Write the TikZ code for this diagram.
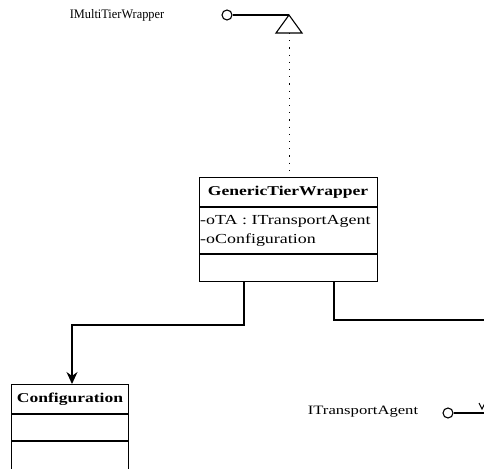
\documentclass[tikz,border=0pt]{standalone}
\usepackage{fontspec}
\newfontfamily\uml[FakeStretch=1.3]{Liberation Serif}
\newfontfamily\umlnarrow[FakeStretch=0.95]{Liberation Serif}
\usetikzlibrary{arrows.meta}
\tikzset{
  box/.style={draw, line width=1.1pt, inner sep=0pt, anchor=north west},
  sep/.style={line width=1.1pt},
  conn/.style={line width=1.1pt},
  hdr/.style={font=\uml\fontsize{13.5}{15}\selectfont\bfseries, inner sep=0pt},
  attr/.style={font=\uml\fontsize{13.8}{15}\selectfont, inner sep=0pt, anchor=west},
  lbl/.style={font=\uml\fontsize{12.8}{14}\selectfont, inner sep=0pt},
  lolli/.style={draw, circle, line width=1.1pt, minimum size=10pt, inner sep=0pt, fill=white},
  realize/.style={line width=0.9pt, dash pattern=on 1.2pt off 6pt},
}
\begin{document}
\begin{tikzpicture}[x=1pt,y=-1pt]
\useasboundingbox (0,0) rectangle (484,468);
\clip (0,0) rectangle (484,468);
% GenericTierWrapper class
\node[box, minimum width=178pt, minimum height=104pt] (gtw) at (199,177) {};
\node[hdr] (gtwname) at (288,192) {GenericTierWrapper};
\draw[sep] (199,207) coordinate (g1l) -- (377,207) coordinate (g1r);
\node[attr] (a1) at (200,221) {-oTA : ITransportAgent};
\node[attr] (a2) at (200,240) {-oConfiguration};
\draw[sep] (199,254) coordinate (g2l) -- (377,254) coordinate (g2r);
% Configuration class
\node[box, minimum width=117pt, minimum height=100pt] (cfg) at (11,384) {};
\node[hdr] (cfgname) at (70,399) {Configuration};
\draw[sep] (11,414) coordinate (c1l) -- (128,414) coordinate (c1r);
\draw[sep] (11,441) coordinate (c2l) -- (128,441) coordinate (c2r);
% IMultiTierWrapper interface
\node[lbl, font=\umlnarrow\fontsize{13}{14}\selectfont] (imtw) at (117,15) {IMultiTierWrapper};
\node[lolli] (imtwc) at (227,15) {};
\coordinate (apex) at (289,15);
\coordinate (tl) at (276,33);
\coordinate (tr) at (302,33);
\coordinate (tb) at (289,33);
\draw[conn] (imtwc) -- (apex);
\draw[line width=1.1pt, line join=miter] (apex) -- (tl) -- (tr) -- cycle;
\draw[realize] (tb) -- (gtw.north -| tb);
% association to Configuration
\coordinate (s1) at (244,281);
\coordinate (k1) at (244,325);
\coordinate (k2) at (72,325);
\draw[conn, -{Stealth[length=12pt,width=11pt]}] (s1) -- (k1) -- (k2) -- (cfg.north -| k2);
% association to the right
\coordinate (s2) at (334,281);
\coordinate (k3) at (334,320);
\coordinate (e2) at (490,320);
\draw[conn] (s2) -- (k3) -- (e2);
% ITransportAgent interface
\node[lbl] (ita) at (363,412) {ITransportAgent};
\node[lolli] (itac) at (448,413) {};
\coordinate (e3) at (490,413);
\draw[conn] (itac) -- (e3);
\coordinate (v1) at (479,403);
\coordinate (v2) at (482,409);
\coordinate (v3) at (485,403);
\draw[line width=1pt] (v1) -- (v2) -- (v3);
\end{tikzpicture}
\end{document}
